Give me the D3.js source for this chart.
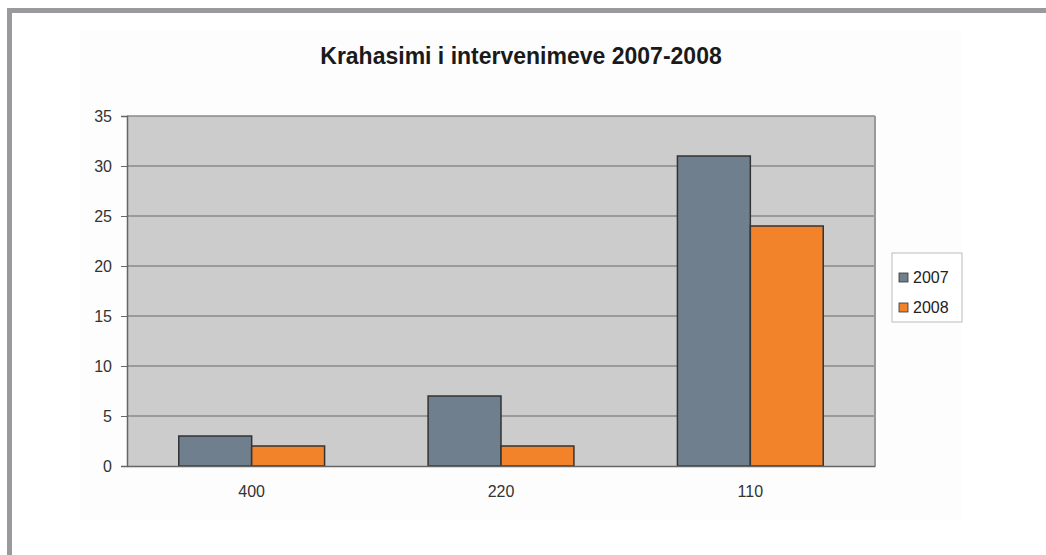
<!DOCTYPE html>
<html>
<head>
<meta charset="utf-8">
<script src="https://cdn.jsdelivr.net/npm/d3@7"></script>
<style>
  html, body { margin: 0; padding: 0; background: #fff; }
  svg { display: block; font-family: Arial, "Liberation Sans", sans-serif; }
</style>
</head>
<body>
<div id="chart"></div>
<script>
// data
var categories = ["400", "220", "110"];
var seriesNames = ["2007", "2008"];
var values2007 = [3, 7, 31];
var values2008 = [2, 2, 24];
var yTicks = [0, 5, 10, 15, 20, 25, 30, 35];
var titleText = "Krahasimi i intervenimeve 2007-2008";

var W = 1046, H = 555;
var plot = {left: 127, right: 875, top: 116, bottom: 466};
var colors = {"2007": "#707f8e", "2008": "#f2832a"};

var svg = d3.select("#chart").append("svg")
  .attr("width", W).attr("height", H);

// frame (top + left grey bars)
svg.append("rect").attr("x", 7).attr("y", 8).attr("width", W - 7).attr("height", 5).attr("fill", "#9a9a9e");
svg.append("rect").attr("x", 7).attr("y", 8).attr("width", 5).attr("height", H - 8).attr("fill", "#9a9a9e");

// faint chart area
svg.append("rect").attr("x", 80).attr("y", 30).attr("width", 881).attr("height", 490).attr("fill", "#fdfdfd");

var x = d3.scaleBand().domain(categories).range([plot.left, plot.right]).paddingInner(0).paddingOuter(0);
var x1 = d3.scaleBand().domain(seriesNames).range([0, x.bandwidth()]).paddingInner(0).paddingOuter(0.71);
var y = d3.scaleLinear().domain([0, 35]).range([plot.bottom, plot.top]);

// plot background
svg.append("rect")
  .attr("x", plot.left).attr("y", plot.top)
  .attr("width", plot.right - plot.left).attr("height", plot.bottom - plot.top)
  .attr("fill", "#cccccc");

// gridlines
svg.append("g").selectAll("line").data(yTicks.filter(function(d){ return d > 0; }))
  .enter().append("line")
  .attr("x1", plot.left).attr("x2", plot.right)
  .attr("y1", function(d){ return y(d); }).attr("y2", function(d){ return y(d); })
  .attr("stroke", "#8a8a8a").attr("stroke-width", 1.5);

// right border of plot
svg.append("line").attr("x1", plot.right).attr("x2", plot.right)
  .attr("y1", plot.top).attr("y2", plot.bottom)
  .attr("stroke", "#9a9a9a").attr("stroke-width", 2);

// bars
var table = categories.map(function(c, i){
  return {cat: c, vals: [{s: "2007", v: values2007[i]}, {s: "2008", v: values2008[i]}]};
});
var groups = svg.append("g").selectAll("g").data(table).enter().append("g")
  .attr("transform", function(d){ return "translate(" + x(d.cat) + ",0)"; });
groups.selectAll("rect").data(function(d){ return d.vals; }).enter().append("rect")
  .attr("x", function(d){ return x1(d.s); })
  .attr("y", function(d){ return y(d.v); })
  .attr("width", x1.bandwidth())
  .attr("height", function(d){ return y(0) - y(d.v); })
  .attr("fill", function(d){ return colors[d.s]; })
  .attr("stroke", "#333")
  .attr("stroke-width", 1.5);

// y axis
var yAxis = svg.append("g")
  .attr("transform", "translate(" + plot.left + ",0)")
  .call(d3.axisLeft(y).tickValues(yTicks).tickSize(6).tickPadding(9));
yAxis.select(".domain").attr("stroke", "#666").attr("stroke-width", 1.5);
yAxis.selectAll(".tick line").attr("stroke", "#666");
yAxis.selectAll("text").attr("fill", "#333").style("font-size", "16px");

// x axis
var xAxis = svg.append("g")
  .attr("transform", "translate(0," + plot.bottom + ")")
  .call(d3.axisBottom(x).tickSize(0).tickPadding(20));
xAxis.select(".domain").attr("stroke", "#666").attr("stroke-width", 1.5);
xAxis.selectAll("text").attr("fill", "#333").style("font-size", "16px");

// title
svg.append("text")
  .attr("x", 521).attr("y", 64)
  .attr("text-anchor", "middle")
  .style("font-size", "23px").style("font-weight", "bold")
  .attr("fill", "#1a1a1a")
  .text(titleText);

// legend
var lg = svg.append("g").attr("transform", "translate(892,253)");
lg.append("rect").attr("width", 70).attr("height", 69)
  .attr("fill", "#ffffff").attr("stroke", "#bbbbbb");
lg.selectAll("g.item").data(seriesNames).enter().append("g")
  .attr("class", "item")
  .attr("transform", function(d, i){ return "translate(7," + (30 + i * 30) + ")"; })
  .each(function(d){
    var g = d3.select(this);
    g.append("rect").attr("x", 0).attr("y", -10).attr("width", 9).attr("height", 9)
      .attr("fill", colors[d]).attr("stroke", "#333").attr("stroke-width", 0.8);
    g.append("text").attr("x", 14).attr("y", 0)
      .style("font-size", "16px").attr("fill", "#222").text(d);
  });
</script>
</body>
</html>
